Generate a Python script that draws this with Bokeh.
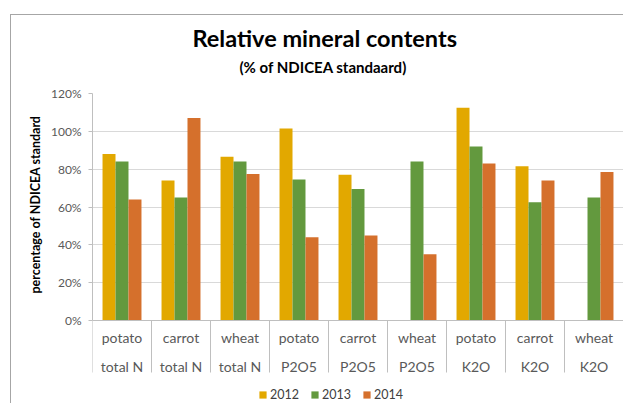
import math
from bokeh.plotting import figure
from bokeh.models import (ColumnDataSource, FixedTicker, LinearAxis, Range1d,
                          Legend, LegendItem, Title, PrintfTickFormatter)
from bokeh.transform import dodge
from bokeh.embed import file_html
from bokeh.resources import INLINE

nan = float("nan")

# ---- data ----
crops = ["potato", "carrot", "wheat", "potato", "carrot", "wheat", "potato", "carrot", "wheat"]
nutrients = ["total N", "total N", "total N", "P2O5", "P2O5", "P2O5", "K2O", "K2O", "K2O"]
years = ["2012", "2013", "2014"]
v2012 = [88, 74, 86.5, 101.5, 77, nan, 112.5, 81.5, nan]
v2013 = [84, 65, 84, 74.5, 69.5, 84, 92, 62.5, 65]
v2014 = [64, 107, 77.5, 44, 45, 35, 83, 74, 78.5]
y_ticks = [0, 20, 40, 60, 80, 100, 120]

colors = ["#E2A800", "#63993E", "#D5702C"]
FONT = "Lato"
GRID = "#D9D9D9"
AXC = "#BFBFBF"
TXT = "#595959"

# layout (pixels): value area 227 px for 0..120 %, label/legend area of 84 px below
Y_MAX = 120
PX_VALUE = 227
PX_BELOW = 84
y_min = -Y_MAX * PX_BELOW / PX_VALUE

idx = list(range(len(crops)))
src = ColumnDataSource(dict(idx=idx, y2012=v2012, y2013=v2013, y2014=v2014))

p = figure(width=613, height=389, output_backend="svg", toolbar_location=None,
           x_range=Range1d(-0.5, len(crops) - 0.5), y_range=Range1d(y_min, Y_MAX),
           x_axis_location=None, min_border_left=81, min_border_right=1,
           min_border_top=78, min_border_bottom=0)
p.styles = {"margin-left": "10px", "margin-top": "14px",
            "border-left": "1px solid #A6A6A6", "border-top": "1px solid #A6A6A6"}
p.outline_line_color = None
p.background_fill_color = "white"
p.border_fill_color = "white"

# y axis
yax = p.yaxis[0]
yax.ticker = FixedTicker(ticks=y_ticks)
yax.bounds = (0, Y_MAX)
yax.formatter = PrintfTickFormatter(format="%d%%")
yax.major_tick_out = 4
yax.major_tick_in = 0
yax.minor_tick_out = 0
yax.minor_tick_in = 0
yax.axis_line_color = AXC
yax.major_tick_line_color = AXC
yax.major_label_standoff = 7
yax.major_label_text_font = FONT
yax.major_label_text_font_size = "12px"
yax.major_label_text_color = TXT

p.ygrid.ticker = FixedTicker(ticks=y_ticks)
p.ygrid.grid_line_color = GRID
p.xgrid.visible = False

# y axis title (placed along the 0..120 % part)
p.add_layout(Title(text="percentage of NDICEA standard", align="left", offset=111,
                   text_font=FONT, text_font_size="12.5px", text_font_style="bold",
                   text_color="#000000", standoff=12), "left")

# x axes at 0 %: crop row (with category separators) and nutrient row
bounds = [i - 0.5 for i in idx]
ax1 = LinearAxis(ticker=FixedTicker(ticks=idx, minor_ticks=bounds), fixed_location=0,
                 major_label_overrides={i: c for i, c in zip(idx, crops)},
                 major_tick_out=0, major_tick_in=0,
                 minor_tick_out=52, minor_tick_in=0,
                 minor_tick_line_color=AXC, axis_line_color=AXC,
                 major_label_standoff=-44,
                 major_label_text_font=FONT, major_label_text_font_size="14px",
                 major_label_text_color=TXT)
ax2 = LinearAxis(ticker=FixedTicker(ticks=idx), fixed_location=0,
                 major_label_overrides={i: n for i, n in zip(idx, nutrients)},
                 major_tick_out=0, major_tick_in=0,
                 minor_tick_out=0, minor_tick_in=0,
                 axis_line_color=None, major_tick_line_color=None,
                 minor_tick_line_color=None,
                 major_label_standoff=37,
                 major_label_text_font=FONT, major_label_text_font_size="14px",
                 major_label_text_color=TXT)
p.add_layout(ax1, "below")
p.add_layout(ax2, "below")

# bars
offsets = [-0.22, 0.0, 0.22]
renderers = []
for yr, col, off in zip(years, colors, offsets):
    r = p.vbar(x=dodge("idx", off, range=p.x_range), top="y" + yr, width=0.22,
               source=src, fill_color=col, line_color=None)
    renderers.append(r)

legend = Legend(items=[LegendItem(label=yr, renderers=[r]) for yr, r in zip(years, renderers)],
                orientation="horizontal", location=(166, 2),
                glyph_width=9, glyph_height=9, label_standoff=3, spacing=11,
                padding=0, margin=0, label_height=12,
                border_line_color=None, background_fill_alpha=0,
                label_text_font=FONT, label_text_font_size="12.5px",
                label_text_color="#404040")
p.add_layout(legend, "center")

# titles
p.add_layout(Title(text="(% of NDICEA standaard)", align="left", offset=147,
                   text_font=FONT, text_font_size="15px", text_font_style="bold",
                   text_color="#000000", standoff=35), "above")
p.add_layout(Title(text="Relative mineral contents", align="left", offset=100,
                   text_font=FONT, text_font_size="23.5px", text_font_style="bold",
                   text_color="#000000", standoff=-26), "above")

open("out.html", "w").write(file_html(p, INLINE))
